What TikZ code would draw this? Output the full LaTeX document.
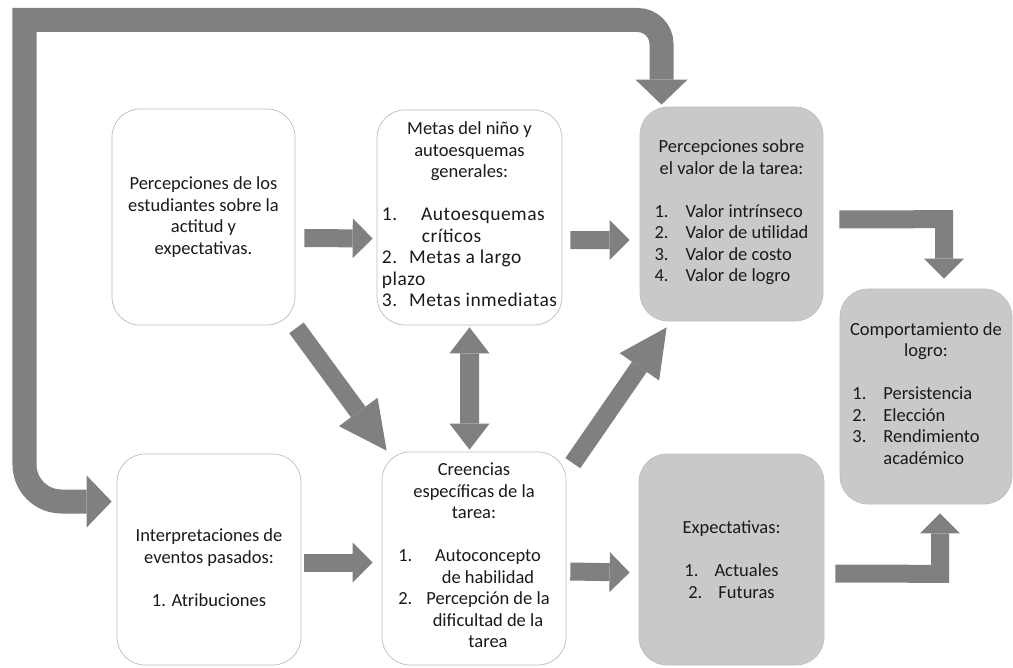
\documentclass[tikz,border=0pt]{standalone}
\usepackage{fontspec}
\setmainfont{Carlito}
\usetikzlibrary{arrows.meta,calc}

\definecolor{arrowgray}{HTML}{808080}
\definecolor{boxgray}{HTML}{C9C9C9}
\definecolor{gboxedge}{HTML}{BEBEBE}
\definecolor{edgegray}{HTML}{BDBDBD}
\definecolor{ink}{HTML}{1A1A1A}

\tikzset{
  box/.style={rounded corners=28bp, inner sep=0pt, align=center, text=ink,
    font=\fontsize{18.5bp}{21.5bp}\selectfont},
  wbox/.style={box, draw=edgegray, line width=0.7bp, fill=white},
  gbox/.style={box, draw=gboxedge, line width=0.7bp, fill=boxgray},
  blk/.style={draw=arrowgray, line width=18bp,
    -{Triangle[length=20bp,width=40bp,line width=0pt]}},
  diag/.style={draw=arrowgray, line width=18bp,
    -{Triangle[length=48bp,width=48bp,line width=0pt]}},
  twoway/.style={draw=arrowgray, line width=19bp,
    {Triangle[length=26bp,width=40bp,line width=0pt]}-{Triangle[length=26bp,width=40bp,line width=0pt]}},
  loopback/.style={draw=arrowgray, line width=24bp, line join=miter,
    {Triangle[length=25bp,width=52bp,line width=0pt]}-{Triangle[length=25bp,width=52bp,line width=0pt]}},
}

\begin{document}
\begin{tikzpicture}[x=1bp,y=-1bp]
\useasboundingbox (0,0) rectangle (1013,668);

% ---------- boxes ----------
\node[wbox, minimum width=183bp, minimum height=216bp] (b1) at (203.5,217)
  {Percepciones de los\\ estudiantes sobre la\\ actitud y\\ expectativas.};

\node[wbox, minimum width=185bp, minimum height=215bp] (b2) at (469.5,217.5)
  {Metas del niño y\\ autoesquemas\\ generales:\\ \mbox{}\\
   \mbox{\fontsize{19.5bp}{21.5bp}\selectfont\addfontfeatures{LetterSpace=2.5}%
     \begin{tabular}[t]{@{}l@{}}1.\hspace{24bp}Autoesquemas\\
     \hspace{40bp}críticos\\
     2.\hspace{12bp}Metas a largo\\
     plazo\\
     3.\hspace{12bp}Metas inmediatas\end{tabular}}};

\node[gbox, minimum width=183bp, minimum height=214bp] (b3) at (731.5,214)
  {Percepciones sobre\\ el valor de la tarea:\\ \mbox{}\\
   \mbox{\begin{tabular}[t]{@{}l@{\hspace{17bp}}l@{}}1.&Valor intrínseco\\
     2.&Valor de utilidad\\ 3.&Valor de costo\\ 4.&Valor de logro\end{tabular}}};

\node[gbox, minimum width=172bp, minimum height=215bp] (b4) at (926,396.5)
  {Comportamiento de\\ logro:\\ \mbox{}\\
   \mbox{\begin{tabular}[t]{@{}l@{\hspace{17bp}}l@{}}1.&Persistencia\\
     2.&Elección\\ 3.&Rendimiento\\ &académico\end{tabular}}\hspace*{20bp}};

\node[wbox, minimum width=184bp, minimum height=211bp] (b5) at (209,559.5)
  {\rule{0pt}{29bp}Interpretaciones de\\ eventos pasados:\\ \mbox{}\\ 1. Atribuciones};

\node[wbox, minimum width=184bp, minimum height=213bp] (b6) at (474,558.5)
  {Creencias\\ específicas de la\\ tarea:\\ \mbox{}\\
   \mbox{\begin{tabular}[t]{@{}r@{\hspace{14bp}}c@{}}1.&Autoconcepto\\
     &de habilidad\\ 2.&Percepción de la\\ &dificultad de la\\ &tarea\end{tabular}}};

\node[gbox, minimum width=185bp, minimum height=211bp] (b7) at (731.5,559.5)
  {Expectativas:\\ \mbox{}\\ 1.\hspace{16bp}Actuales\\ 2.\hspace{16bp}Futuras};

% ---------- straight block arrows ----------
\draw[blk] ($(b1.east)+(9,21)$) -- ($(b2.west)+(-4,21)$);
\draw[blk] ($(b2.east)+(8,22.5)$) -- ($(b3.west)+(-10,26)$);
\draw[blk] ($(b5.east)+(3,3)$) -- ($(b6.west)+(-9,4)$);
\draw[blk] ($(b6.east)+(4,13)$) -- ($(b7.west)+(-9,13)$);

% ---------- elbow arrows into the outcome box ----------
\draw[blk, line join=miter] ($(b3.east)+(16,5.5)$) -- ($(b4.north)+(18,-69.5)$) -- ($(b4.north)+(18,-10)$);
\draw[blk, line join=miter] ($(b7.east)+(11,14)$) -- ($(b4.south)+(14,69.5)$) -- ($(b4.south)+(14,9)$);

% ---------- diagonal arrows ----------
\draw[diag] ($(b1.south)+(93,2.5)$) -- ($(b6.north west)+(5,-1)$);
\draw[diag] ($(b6.north east)+(6.5,11.5)$) -- ($(b3.south west)+(27,6)$);

% ---------- two-way arrow ----------
\draw[twoway] ($(b2.south)+(0,2)$) -- ($(b6.north)+(-4.5,-2)$);

% ---------- feedback loop around the top ----------
\draw[loopback] ($(b5.west)+(-5,-58)$) -- (61.5,501.5)
  .. controls (41.07,501.5) and (24.5,484.93) .. (24.5,464.5)
  -- (24.5,20) -- (637.5,20)
  .. controls (650.75,20) and (661.5,30.75) .. (661.5,44)
  -- ($(b3.north)+(-70,-2)$);
\end{tikzpicture}
\end{document}
